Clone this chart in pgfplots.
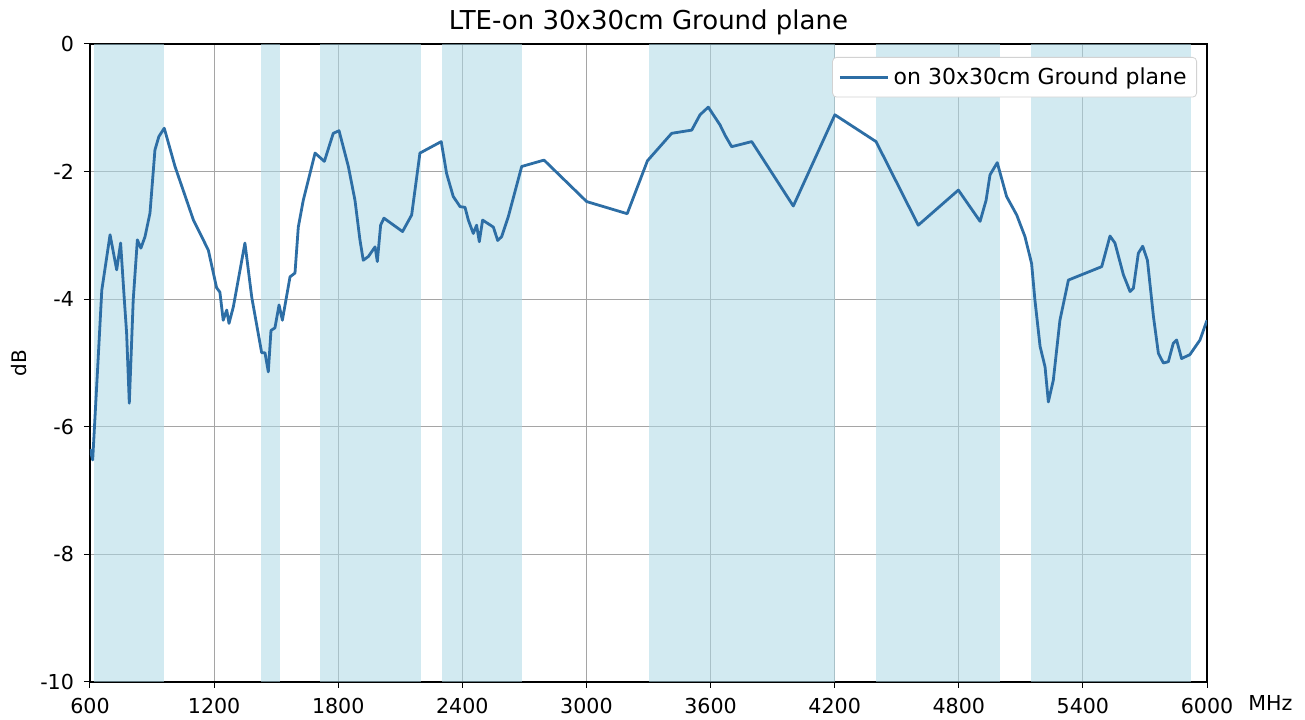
\documentclass[border=0pt]{standalone}
\usepackage{pgfplots}
\pgfplotsset{compat=1.18}
\usepackage{fontspec}
\setmainfont{DejaVu Sans}
\definecolor{lineblue}{RGB}{45,110,165}
\definecolor{bandblue}{RGB}{173,216,230}
\definecolor{gridgray}{RGB}{165,165,165}

\begin{document}
\begin{tikzpicture}
\begin{axis}[
    name=ax,
    scale only axis,
    width=558.5pt,
    height=319pt,
    xmin=600, xmax=6000,
    ymin=-10, ymax=0,
    xtick={600,1200,...,6000},
    ytick={-10,-8,...,0},
    grid=major,
    major grid style={gridgray, line width=0.5pt},
    tick align=outside,
    tickpos=left,
    major tick length=3pt,
    tick style={black, line width=0.5pt},
    axis line style={black, line width=0.6pt},
    scaled ticks=false,
    /pgf/number format/assume math mode=true,
    /pgf/number format/1000 sep={},
    ticklabel style={font=\fontsize{10.3}{12}\selectfont},
    xticklabel style={yshift=-1.5pt},
    yticklabel style={xshift=-1.5pt},
    title={LTE-on 30x30cm Ground plane},
    title style={font=\fontsize{13}{15}\selectfont, yshift=-5pt},
    ylabel={dB},
    ylabel style={font=\fontsize{10}{12}\selectfont},
    legend style={at={(1,1)}, anchor=north east, xshift=-5pt, yshift=-6.5pt,
        draw=gray!35, rounded corners=2pt, font=\fontsize{11}{13}\selectfont,
        inner sep=3pt},
    legend image code/.code={\draw[#1] (0cm,0cm) -- (0.85cm,0cm);},
    legend cell align=left,
]
% frequency bands
\addplot[draw=none, fill=bandblue, fill opacity=0.55, forget plot] coordinates {(617,-10) (617,0) (960,0) (960,-10)} -- cycle;
\addplot[draw=none, fill=bandblue, fill opacity=0.55, forget plot] coordinates {(1427,-10) (1427,0) (1518,0) (1518,-10)} -- cycle;
\addplot[draw=none, fill=bandblue, fill opacity=0.55, forget plot] coordinates {(1710,-10) (1710,0) (2200,0) (2200,-10)} -- cycle;
\addplot[draw=none, fill=bandblue, fill opacity=0.55, forget plot] coordinates {(2300,-10) (2300,0) (2690,0) (2690,-10)} -- cycle;
\addplot[draw=none, fill=bandblue, fill opacity=0.55, forget plot] coordinates {(3300,-10) (3300,0) (4200,0) (4200,-10)} -- cycle;
\addplot[draw=none, fill=bandblue, fill opacity=0.55, forget plot] coordinates {(4400,-10) (4400,0) (5000,0) (5000,-10)} -- cycle;
\addplot[draw=none, fill=bandblue, fill opacity=0.55, forget plot] coordinates {(5150,-10) (5150,0) (5925,0) (5925,-10)} -- cycle;

\addplot[lineblue, line width=1.4pt, line join=round, mark=none] coordinates {
(600,-6.35) (613,-6.52) (640,-4.9) (657,-3.86) (697,-2.99) (729,-3.54)
(748,-3.12) (766,-4.01) (777,-4.53) (790,-5.63) (809,-4.01) (829,-3.07)
(846,-3.20) (866,-3.02) (890,-2.65) (914,-1.66) (933,-1.45) (959,-1.32)
(1011,-1.92) (1100,-2.76) (1172,-3.23) (1212,-3.82) (1228,-3.89) (1244,-4.33)
(1261,-4.17) (1272,-4.38) (1293,-4.12) (1349,-3.12) (1382,-3.97) (1430,-4.84)
(1446,-4.84) (1462,-5.14) (1475,-4.49) (1494,-4.45) (1514,-4.09) (1530,-4.33)
(1567,-3.65) (1591,-3.59) (1607,-2.87) (1631,-2.45) (1688,-1.71) (1733,-1.84)
(1776,-1.40) (1804,-1.36) (1849,-1.92) (1881,-2.45) (1905,-3.07) (1921,-3.39)
(1946,-3.33) (1978,-3.18) (1989,-3.41) (2005,-2.84) (2021,-2.73) (2111,-2.94)
(2155,-2.68) (2195,-1.71) (2298,-1.53) (2324,-2.03) (2356,-2.39) (2389,-2.55)
(2413,-2.56) (2429,-2.76) (2453,-2.97) (2469,-2.84) (2482,-3.10) (2498,-2.76)
(2550,-2.87) (2571,-3.08) (2590,-3.02) (2622,-2.71) (2687,-1.92) (2795,-1.82)
(3001,-2.47) (3197,-2.66) (3295,-1.83) (3412,-1.40) (3509,-1.35) (3549,-1.11)
(3589,-0.99) (3646,-1.27) (3670,-1.43) (3702,-1.61) (3799,-1.53) (4000,-2.54)
(4201,-1.11) (4400,-1.53) (4604,-2.84) (4798,-2.29) (4903,-2.78) (4932,-2.45)
(4951,-2.05) (4986,-1.86) (5031,-2.39) (5080,-2.68) (5120,-3.02) (5152,-3.44)
(5168,-4.01) (5193,-4.74) (5217,-5.06) (5233,-5.61) (5257,-5.27) (5289,-4.33)
(5330,-3.70) (5491,-3.49) (5531,-3.01) (5555,-3.12) (5596,-3.62) (5628,-3.88)
(5644,-3.83) (5668,-3.28) (5689,-3.17) (5712,-3.39) (5741,-4.27) (5765,-4.85)
(5789,-5.00) (5813,-4.98) (5837,-4.69) (5853,-4.64) (5877,-4.93) (5917,-4.87)
(5966,-4.64) (6000,-4.33)
};
\addlegendentry{on 30x30cm Ground plane}
\end{axis}
\node[anchor=base west, inner sep=0pt, font=\fontsize{10.3}{12}\selectfont] at ([xshift=20.5pt, yshift=-14.5pt]ax.south east) {MHz};
\pgfresetboundingbox
\path ([shift={(-45pt,-19pt)}]ax.south west) rectangle ([shift={(49pt,22pt)}]ax.north east);
\end{tikzpicture}
\end{document}
